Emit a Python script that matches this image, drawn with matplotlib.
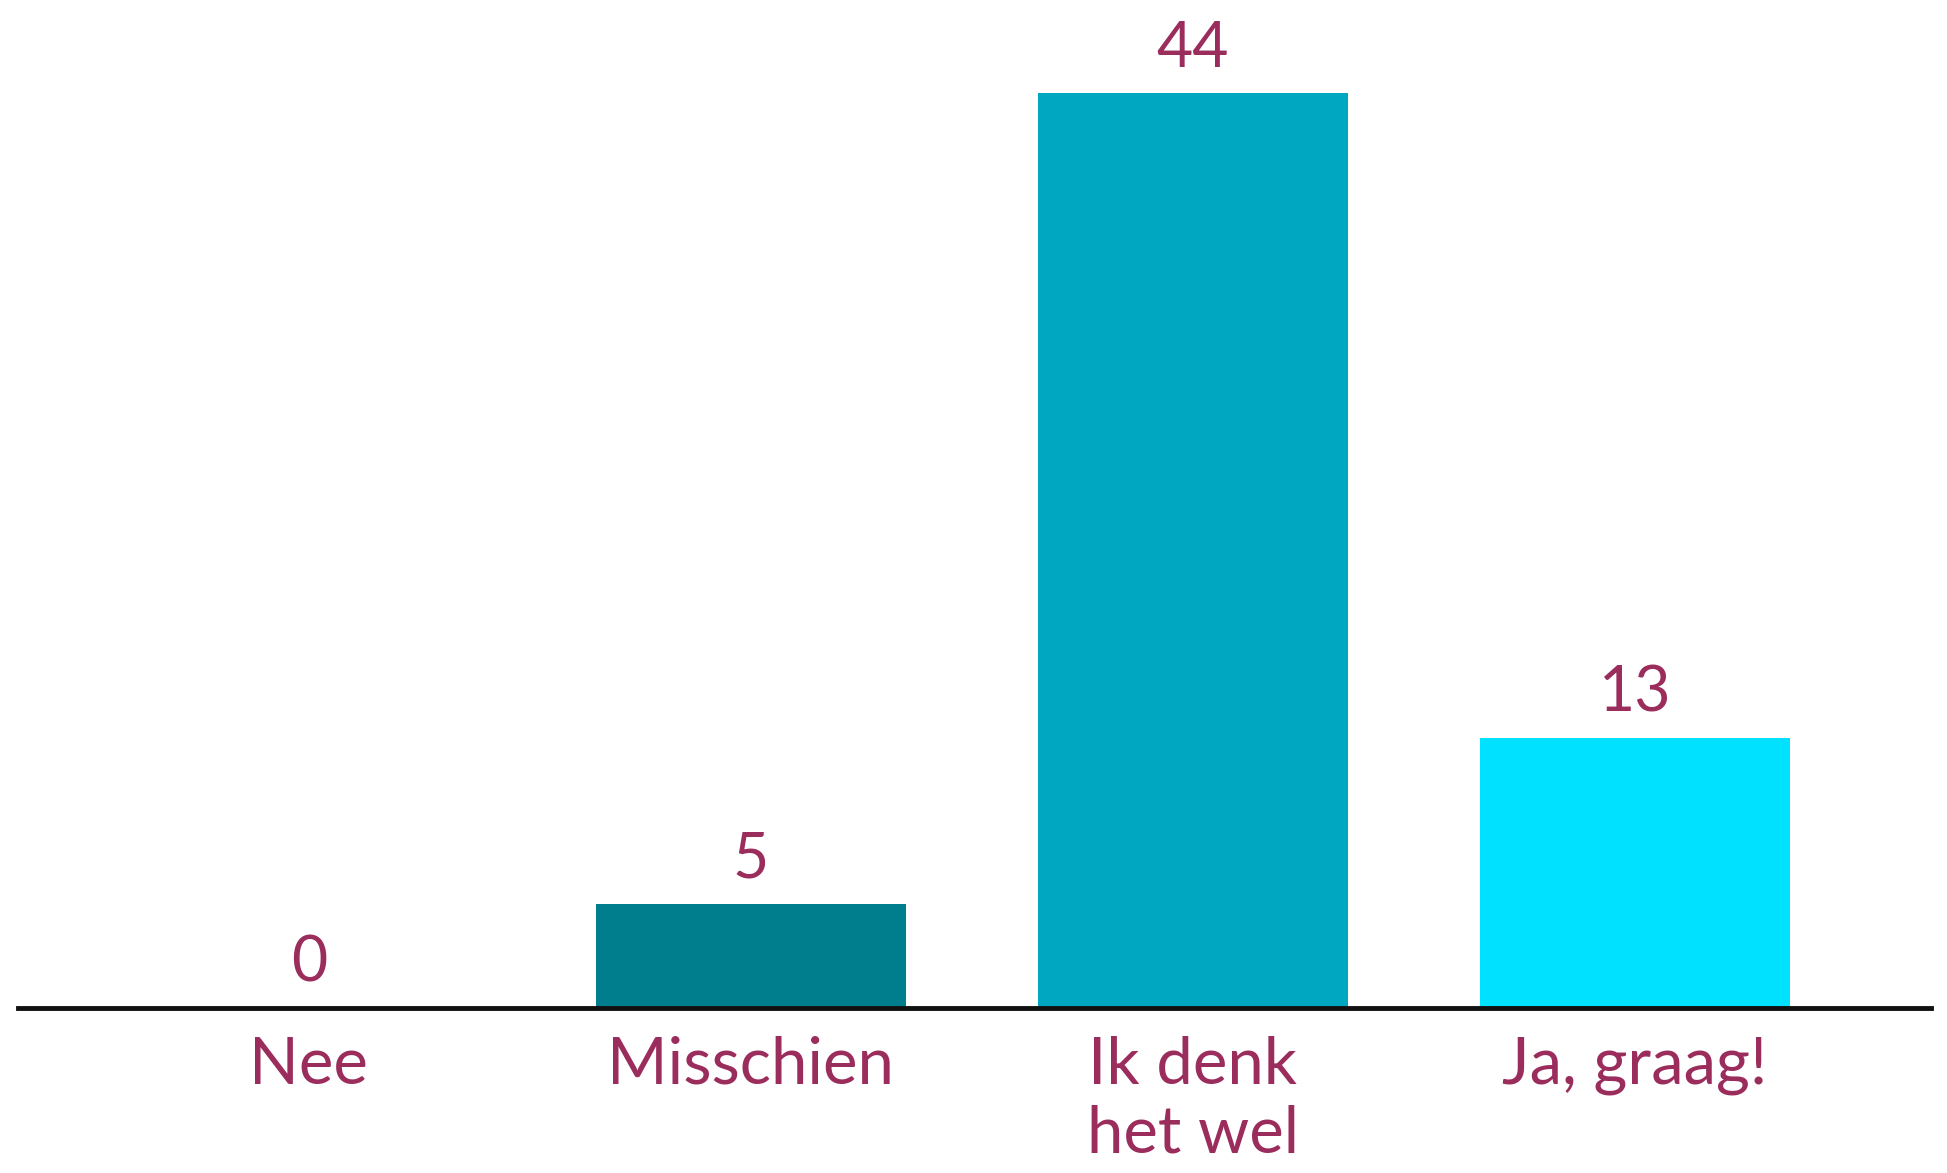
import matplotlib
matplotlib.use("Agg")
import matplotlib.pyplot as plt

categories = ["Nee", "Misschien", "Ik denk\nhet wel", "Ja, graag!"]
values = [0, 5, 44, 13]
bar_colors = ["#007e8e", "#007e8e", "#00a7c0", "#00e1ff"]
TEXT = "#9b2d5c"

plt.rcParams["font.family"] = ["Lato", "DejaVu Sans"]

fig = plt.figure(figsize=(19.47, 11.73), dpi=100)
# baseline sits ~1008 px from top; x axis spans ~18..1931 px
ax = fig.add_axes([18 / 1947, (1173 - 1008) / 1173, (1931 - 18) / 1947, 1008 / 1173])

x = list(range(len(categories)))
ax.bar(x, values, width=0.70, color=bar_colors, zorder=2)
ax.set_xlim(-0.658, 3.67)
ax.set_ylim(0, 1008 / 20.8)

for xi, v in zip(x, values):
    ax.annotate(str(v), (xi, v), xytext=(0, 11), textcoords="offset points",
                ha="center", va="bottom", fontsize=45, color=TEXT)

ax.set_xticks(x)
ax.set_xticklabels(categories, fontsize=47, color=TEXT, linespacing=1.2)
ax.tick_params(axis="x", length=0, pad=20)
ax.set_yticks([])
for side in ("top", "right", "left"):
    ax.spines[side].set_visible(False)
ax.spines["bottom"].set_linewidth(3.5)
ax.spines["bottom"].set_color("#111111")
ax.spines["bottom"].set_zorder(3)

fig.savefig("out.png", dpi=100, facecolor="white")
